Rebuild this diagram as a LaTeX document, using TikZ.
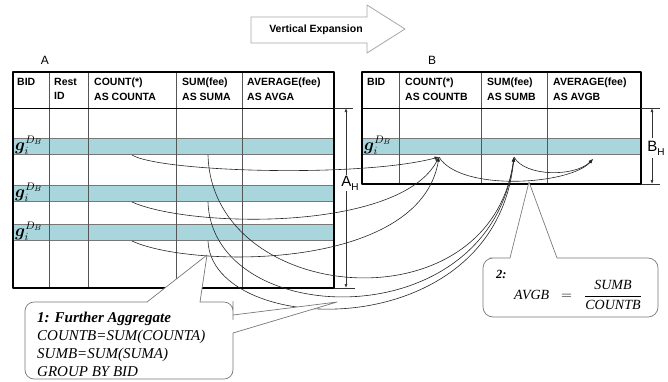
\documentclass[tikz,border=0pt]{standalone}
\usepackage{amsmath,amssymb,bm}
\usepackage{fontspec}
\setmainfont{Liberation Sans}
\newfontfamily\timesfam{Liberation Serif}
\usepackage{tikz}
\usetikzlibrary{arrows.meta,positioning}
\definecolor{rowteal}{RGB}{168,214,220}
\definecolor{gridgray}{RGB}{85,85,85}
\definecolor{calloutgray}{RGB}{120,120,120}

\begin{document}
\begin{tikzpicture}[x=1pt, y=-1pt, line join=round,
  every node/.style={inner sep=0pt},
  hdr/.style={anchor=north west, align=left, font=\fontsize{10.5}{14.5}\selectfont\bfseries},
  gname/.style={anchor=west, font=\fontsize{16}{16}\selectfont},
  tname/.style={font=\fontsize{12}{12}\selectfont},
  dimlabel/.style={font=\fontsize{15}{15}\selectfont, inner sep=1pt},
  frame/.style={line width=1.6pt},
  colline/.style={gridgray, line width=0.6pt},
  band/.style={fill=rowteal, draw=gridgray!80, line width=0.6pt},
  link/.style={black!85, line width=0.6pt, -{Latex[length=4.5pt,width=3.5pt]}},
  dim/.style={black!80, line width=0.6pt},
  dimtip/.style={dim, -{Latex[length=4pt,width=3pt]}},
  callout/.style={draw=calloutgray, line width=0.7pt, fill=white},
  note/.style={anchor=north west, align=left, font=\timesfam\itshape\fontsize{15}{18}\selectfont}]

\useasboundingbox (0,0) rectangle (668,381);

% expansion arrow
\draw[black!35, line width=0.8pt, fill=white] (251,17) -- (367,17) -- (367,5) -- (405,29) -- (367,53) -- (367,43) -- (251,43) -- cycle;
\node[font=\fontsize{10.5}{12}\selectfont\bfseries] (vexp) at (316,30) {Vertical Expansion};

% table A
\foreach \y in {138,185,224} \draw[band] (13,\y) rectangle (334,\y+16.5);
\foreach \x in {49,88,176,242} \draw[colline] (\x,72) -- (\x,288);
\draw[line width=0.8pt] (13,108) -- (334,108);
\draw[frame] (13,72) rectangle (334,288);
\node[tname] (alab) at (45,60) {A};
\node[hdr] (abid) at (17,78) {BID};
\node[hdr] (arest) at (54,78) {Rest\\ID};
\node[hdr] (acnt) at (94,78) {COUNT(*)\\AS COUNTA};
\node[hdr] (asum) at (182,78) {SUM(fee)\\AS SUMA};
\node[hdr] (aavg) at (247,78) {AVERAGE(fee)\\AS AVGA};
\node[gname] (ga1) at (15,145) {$\boldsymbol{g}_i^{D_B}$};
\node[gname] (ga2) at (15,192) {$\boldsymbol{g}_i^{D_B}$};
\node[gname] (ga3) at (15,231) {$\boldsymbol{g}_i^{D_B}$};

% table B
\draw[band] (362,138) rectangle (641,154.5);
\foreach \x in {399,481,547} \draw[colline] (\x,72) -- (\x,184);
\draw[line width=0.8pt] (362,108) -- (641,108);
\draw[frame] (362,72) rectangle (641,184);
\node[tname] (blab) at (432,60) {B};
\node[hdr] (bbid) at (367,78) {BID};
\node[hdr] (bcnt) at (405,78) {COUNT(*)\\AS COUNTB};
\node[hdr] (bsum) at (487,78) {SUM(fee)\\AS SUMB};
\node[hdr] (bavg) at (553,78) {AVERAGE(fee)\\AS AVGB};
\node[gname] (gb) at (364,145) {$\boldsymbol{g}_i^{D_B}$};

% heights
\coordinate (ahtop) at (346,108);
\coordinate (ahbot) at (346,288);
\draw[dim] (334,108) -- (353,108);
\draw[dim] (334,288) -- (355,288);
\node[dimlabel] (ah) at (350,183) {A\raisebox{-4pt}{\fontsize{10}{10}\selectfont H}};
\draw[dimtip] (ah.north -| ahtop) -- (ahtop);
\draw[dimtip] (ah.south -| ahtop) -- (ahbot);
\coordinate (bhtop) at (652,108);
\coordinate (bhbot) at (652,184);
\draw[dim] (641,108) -- (660,108);
\draw[dim] (641,184) -- (660,184);
\node[dimlabel, inner sep=3pt] (bh) at (656,148) {B\raisebox{-4pt}{\fontsize{10}{10}\selectfont H}};
\draw[dimtip] (bh.north -| bhtop) -- (bhtop);
\draw[dimtip] (bh.south -| bhtop) -- (bhbot);

% aggregation links
\coordinate (cb) at (439,157);
\coordinate (sb) at (514,157);
\coordinate (ab) at (593,159);
\coordinate (ca1) at (132,155);
\coordinate (ca2) at (132,202);
\coordinate (ca3) at (132,241);
\coordinate (sa1) at (208,155);
\coordinate (sa2) at (208,202);
\coordinate (sa3) at (208,241);
\draw[link] (ca1) .. controls (160,172) and (360,178) .. (cb);
\draw[link] (ca2) .. controls (190,228) and (400,232) .. (cb);
\draw[link] (ca3) .. controls (190,268) and (420,272) .. (cb);
\draw[link] (sa1) .. controls (212,305) and (490,330) .. (sb);
\draw[link] (sa2) .. controls (212,330) and (490,340) .. (sb);
\draw[link] (sa3) .. controls (212,338) and (495,348) .. (sb);
\draw[link] (cb) .. controls (460,192) and (570,185) .. (ab);
\draw[link] (sb) .. controls (525,177) and (575,177) .. (ab);

% callouts
\draw[callout] (120,379) [rounded corners=9pt] -- (25,379) -- (25,302) -- (137,302) [sharp corners] -- (147,302) -- (207,255) -- (200,302) -- (210,302) [rounded corners=9pt] -- (233,302) -- (233,310.5) [sharp corners] -- (233,315) -- (337,302) -- (233,333) -- (233,340) [rounded corners=9pt] -- (233,379) -- cycle;
\node[note] (agg) at (37,312) {\textbf{1: Further Aggregate}\\COUNTB=SUM(COUNTA)\\SUMB=SUM(SUMA)\\GROUP BY BID};
\draw[callout] (600,317) [rounded corners=10pt] -- (483,317) -- (483,258) -- (500,258) [sharp corners] -- (510,258) -- (529,182) -- (557,258) -- (567,258) [rounded corners=10pt] -- (658,258) -- (658,317) -- cycle;
\node[font=\timesfam\bfseries\itshape\fontsize{12.5}{12}\selectfont, anchor=base west] (two) at (496,278) {2:};
\node[font=\timesfam\itshape\fontsize{14}{15}\selectfont] (avgf) at (578,295) {$\text{AVGB}\;\;=\;\;\dfrac{\;\text{SUMB}\;}{\text{COUNTB}}$};
\end{tikzpicture}
\end{document}
